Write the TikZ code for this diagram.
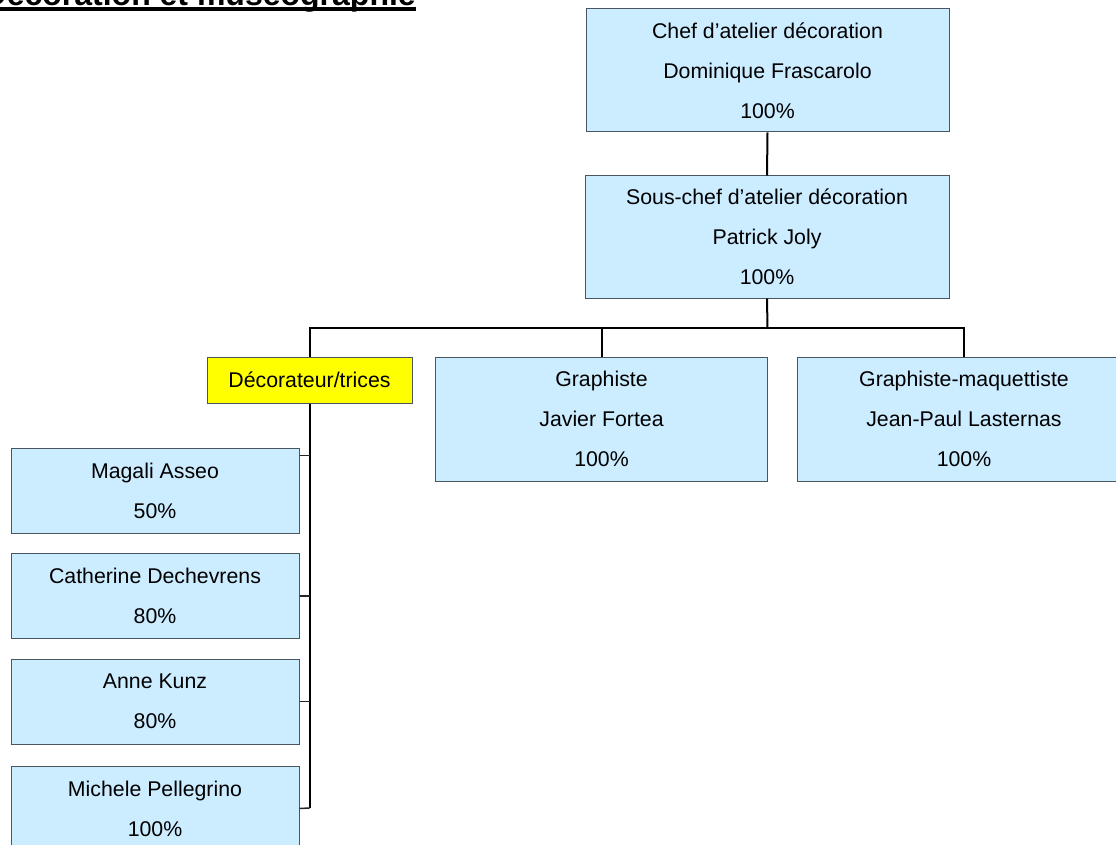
\documentclass[tikz,border=0pt]{standalone}
\usepackage{fontspec}
\setmainfont{Liberation Sans}
\usetikzlibrary{calc}
\definecolor{boxblue}{HTML}{CCECFF}
\definecolor{boxyellow}{HTML}{FFFF00}
\definecolor{boxline}{HTML}{4A5560}
\tikzset{
  box/.style={draw=boxline, line width=1pt, fill=boxblue, inner sep=0pt, align=center,
    font=\fontsize{21.3}{40}\selectfont, text=black},
  ybox/.style={box, fill=boxyellow},
  conn/.style={draw=black, line width=2pt},
  stub/.style={draw=black!85, line width=1.5pt},
}
\begin{document}
\begin{tikzpicture}[x=1pt,y=-1pt]
\useasboundingbox (0,0) rectangle (1116,845);
\clip (0,0) rectangle (1116,845);
% title
\node[anchor=base east, inner sep=0pt, font=\bfseries\fontsize{32}{38}\selectfont] (title) at (416,6) {Décoration et muséographie};
\fill ($(title.base west)+(0,1.5)$) rectangle ($(title.base east)+(0,5.5)$);
% boxes
\node[box, minimum width=363, minimum height=123] (chef) at (767.5,70.5) {Chef d’atelier décoration\\Dominique Frascarolo\\100\%};
\node[box, minimum width=364, minimum height=122] (sous) at (767,237) {Sous-chef d’atelier décoration\\Patrick Joly\\100\%};
\node[ybox, minimum width=205, minimum height=46] (decor) at (309.5,380) {Décorateur/trices};
\node[box, minimum width=332, minimum height=124] (graph) at (601.5,419) {Graphiste\\Javier Fortea\\100\%};
\node[box, minimum width=334, minimum height=124] (maq) at (964,419) {Graphiste-maquettiste\\Jean-Paul Lasternas\\100\%};
\node[box, minimum width=288, minimum height=85] (mag) at (155,490.5) {Magali Asseo\\50\%};
\node[box, minimum width=288, minimum height=85] (cath) at (155,596) {Catherine Dechevrens\\80\%};
\node[box, minimum width=288, minimum height=85] (anne) at (155,701.5) {Anne Kunz\\80\%};
\node[box, minimum width=288, minimum height=85] (mich) at (155,808.5) {Michele Pellegrino\\100\%};
% connectors
\coordinate (bus) at (767.5,328);
\coordinate (vb) at (309.5,808);
\coordinate (magstub) at ($(mag.north east)+(0,8)$);
\draw[conn] (chef.south) -- (sous.north);
\draw[conn] (sous.south) -- (bus);
\draw[conn] (decor.north) -- (decor.north |- bus) -| (maq.north);
\draw[conn] (graph.north) -- (graph.north |- bus);
\draw[conn] (decor.south) -- (vb);
\draw[stub] (magstub) -- (magstub -| vb);
\draw[stub] (cath.east) -- (cath.east -| vb);
\draw[stub] (anne.east) -- (anne.east -| vb);
\draw[stub] (mich.east) -- (vb);
\end{tikzpicture}
\end{document}
